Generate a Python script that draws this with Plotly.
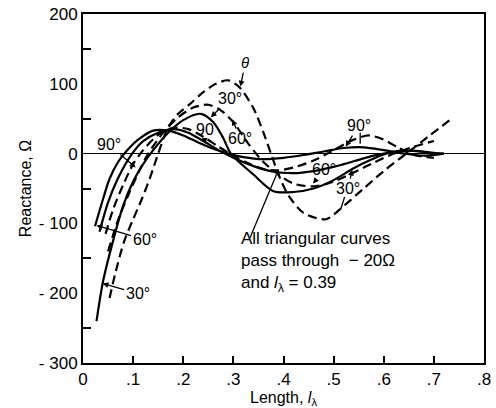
import plotly.graph_objects as go

# ---- data ----
solid90_x = [0.024, 0.04, 0.053, 0.07, 0.086, 0.11, 0.14, 0.17, 0.20, 0.23, 0.26, 0.29, 0.32, 0.36, 0.40, 0.44, 0.48, 0.52, 0.56, 0.60, 0.64, 0.68, 0.72]
solid90_y = [-104, -65, -36, -12, 3, 20, 33, 33, 26, 16, 7, 0, -5, -8, -6, -2, 3, 8, 9, 5, 0, -3, 0]

solid60_x = [0.033, 0.05, 0.07, 0.098, 0.12, 0.15, 0.18, 0.21, 0.24, 0.27, 0.30, 0.34, 0.38, 0.42, 0.46, 0.50, 0.54, 0.58, 0.62, 0.66, 0.70, 0.72]
solid60_y = [-112, -70, -35, 0, 18, 30, 35, 30, 18, 5, -6, -18, -26, -28, -25, -19, -11, -3, 2, 4, 1, 0]

solid30_x = [0.027, 0.04, 0.06, 0.08, 0.10, 0.12, 0.14, 0.17, 0.20, 0.235, 0.26, 0.28, 0.295, 0.34, 0.38, 0.42, 0.46, 0.50, 0.54, 0.58, 0.62, 0.66, 0.70]
solid30_y = [-240, -183, -125, -75, -40, -15, 5, 30, 48, 57, 45, 22, 0, -30, -54, -55, -50, -38, -21, -7, 3, 4, 0]

dash90_x = [0.045, 0.06, 0.08, 0.10, 0.12, 0.15, 0.18, 0.21, 0.24, 0.27, 0.30, 0.33, 0.36, 0.39, 0.42, 0.46, 0.50, 0.54, 0.57, 0.60, 0.63, 0.66, 0.70]
dash90_y = [-115, -80, -45, -15, 5, 27, 37, 35, 24, 10, -3, -14, -22, -24, -20, -10, 5, 20, 26, 20, 8, -2, -6]

dash60_x = [0.05, 0.07, 0.09, 0.11, 0.13, 0.16, 0.19, 0.22, 0.25, 0.275, 0.30, 0.33, 0.36, 0.39, 0.42, 0.46, 0.50, 0.54, 0.58, 0.62, 0.66, 0.70]
dash60_y = [-140, -95, -60, -28, 0, 30, 52, 66, 70, 62, 45, 14, -12, -30, -43, -47, -40, -27, -13, 0, 10, 18]

dash30_x = [0.053, 0.065, 0.082, 0.10, 0.118, 0.135, 0.15, 0.17, 0.19, 0.215, 0.24, 0.265, 0.29, 0.312, 0.34, 0.36, 0.375, 0.39, 0.41, 0.44, 0.485, 0.52, 0.56, 0.60, 0.645, 0.69, 0.735]
dash30_y = [-207, -170, -126, -94, -64, -32, 0, 38, 57, 72, 88, 100, 105, 95, 65, 30, 0, -30, -60, -85, -94, -75, -50, -25, 0, 25, 50]

x_tickvals = [0, 0.1, 0.2, 0.3, 0.4, 0.5, 0.6, 0.7, 0.8]
x_ticktext = ["0", ".1", ".2", ".3", ".4", ".5", ".6", ".7", ".8"]
y_tickvals = [-300, -200, -100, 0, 100, 200]
y_ticktext = ["- 300", "- 200", "- 100", "0", "100", "200"]
y_minor = [-250, -150, -50, 50, 150]

note_lines = ["All triangular curves", "pass through  − 20Ω", "and <i>l</i><sub>λ</sub> = 0.39"]

FONT = "Liberation Sans, Arial, Helvetica, sans-serif"

fig = go.Figure()
for xs, ys in [(solid90_x, solid90_y), (solid60_x, solid60_y), (solid30_x, solid30_y)]:
    fig.add_trace(go.Scatter(x=xs, y=ys, mode="lines",
                             line=dict(color="black", width=2.2, shape="spline", smoothing=0.8),
                             showlegend=False, hoverinfo="skip"))
for xs, ys in [(dash90_x, dash90_y), (dash60_x, dash60_y), (dash30_x, dash30_y)]:
    fig.add_trace(go.Scatter(x=xs, y=ys, mode="lines",
                             line=dict(color="black", width=2.2, dash="9px,5px", shape="spline", smoothing=0.8),
                             showlegend=False, hoverinfo="skip"))

anns = []
def lab(text, x, y, ax, ay, size=16, head=2):
    anns.append(dict(x=x, y=y, ax=ax, ay=ay, xref="x", yref="y", text=text,
                     showarrow=True, arrowhead=head, arrowsize=0.9, arrowwidth=1.3,
                     arrowcolor="black", font=dict(size=size, color="black", family=FONT)))

lab("90°", 0.105, -20, -27, -23)
lab("60°", 0.027, -103, 48, 14)
lab("30°", 0.039, -186, 35, 10)
lab("<i>θ</i>", 0.314, 96, 5, -24, size=15)
lab("30°", 0.255, 52, 19, -19)
lab("90", 0.243, 14, 0, -14)
lab("60°", 0.298, 49, 8, 19)
lab("90°", 0.524, 10, 13, -21)
lab("60°", 0.459, -43, 11, -14)
lab("30°", 0.537, -23, -4, 19)

# note text
anns.append(dict(x=0.312, y=-156, xref="x", yref="y", xanchor="left", yanchor="middle",
                 align="left", showarrow=False, text="<br>".join(note_lines),
                 font=dict(size=17, color="black", family=FONT)))

shapes = [
    # pointer from the note to the common crossing point
    dict(type="line", xref="x", yref="y", x0=0.333, y0=-121, x1=0.386, y1=-30,
         line=dict(color="black", width=1.3)),
    # second leader of the right "90°" label
    dict(type="line", xref="x", yref="y", x0=0.553, y0=30, x1=0.553, y1=14,
         line=dict(color="black", width=1.3)),
    # second leader of the lower "30°" label
    dict(type="line", xref="x", yref="y", x0=0.522, y0=-62, x1=0.514, y1=-80,
         line=dict(color="black", width=1.3)),
]

fig.update_layout(
    width=496, height=408,
    margin=dict(l=83, r=5, t=11, b=42),
    paper_bgcolor="white", plot_bgcolor="white",
    font=dict(family=FONT, size=16, color="black"),
    annotations=anns, shapes=shapes,
    xaxis=dict(range=[0, 0.8], tickvals=x_tickvals, ticktext=x_ticktext,
               ticks="inside", ticklen=7, tickwidth=1.5, tickcolor="black",
               showline=True, linecolor="black", linewidth=2, mirror=True,
               showgrid=False, zeroline=False, ticklabeloverflow="allow",
               title=dict(text="Length, <i>l</i><sub>λ</sub>", standoff=2, font=dict(size=16)),
               tickfont=dict(size=17)),
    yaxis=dict(range=[-300, 200], tickvals=y_tickvals, ticktext=y_ticktext,
               ticks="", showline=True, linecolor="black", linewidth=2, mirror=True,
               showgrid=False, zeroline=True, zerolinecolor="black", zerolinewidth=1.2,
               minor=dict(tickmode="array", tickvals=y_minor, ticks="inside", ticklen=8,
                          tickwidth=1.5, tickcolor="black"),
               title=dict(text="Reactance, Ω", standoff=3, font=dict(size=16)),
               tickfont=dict(size=17)),
)

fig.write_html("out.html")
